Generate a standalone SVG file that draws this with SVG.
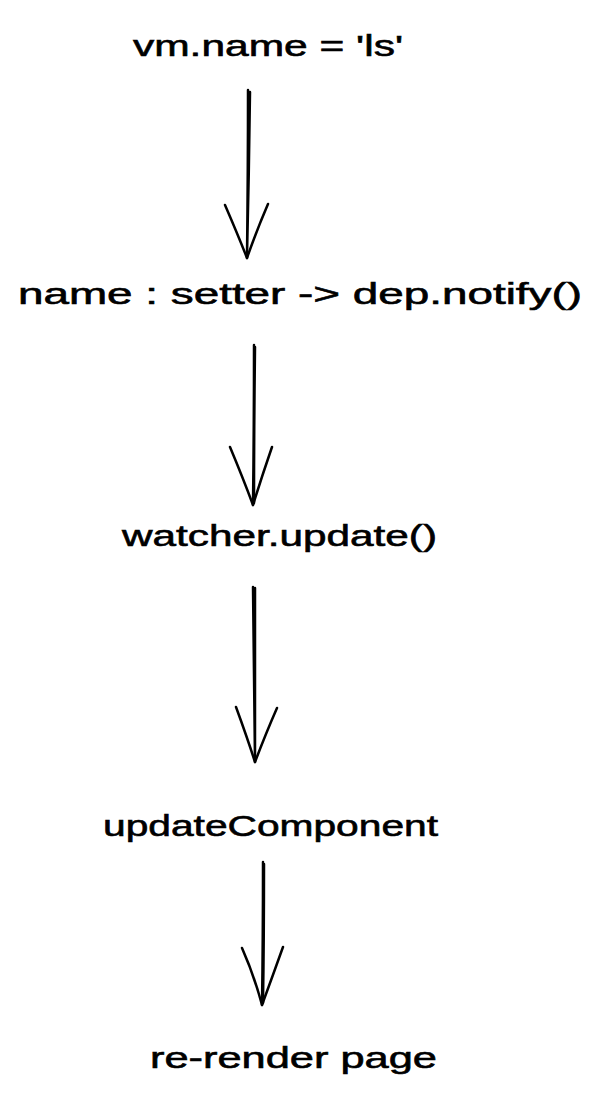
<svg xmlns="http://www.w3.org/2000/svg" width="604" height="1102" viewBox="0 0 604 1102">
<style>
.t{font-family:"Liberation Sans","Noto Sans",sans-serif;font-size:30px;fill:#000;stroke:#000;stroke-width:0.6;}
.a{fill:none;stroke:#000;stroke-width:2.5;stroke-linecap:round;stroke-linejoin:round;}
</style>
<rect width="604" height="1102" fill="#fff"/>
<g id="n1"><text class="t" x="133" y="56" textLength="270" lengthAdjust="spacingAndGlyphs">vm.name = 'ls'</text></g>
<g id="n2"><text class="t" x="18" y="304" textLength="564" lengthAdjust="spacingAndGlyphs">name : setter -&gt; dep.notify()</text></g>
<g id="n3"><text class="t" x="122" y="546" textLength="315" lengthAdjust="spacingAndGlyphs">watcher.update()</text></g>
<g id="n4"><text class="t" x="103" y="836" textLength="335" lengthAdjust="spacingAndGlyphs">updateComponent</text></g>
<g id="n5"><text class="t" x="150" y="1068" textLength="287" lengthAdjust="spacingAndGlyphs">re-render page</text></g>
<g id="connectors">
<path class="a" d="M248 90 Q248 170 247 258 M250 92 Q249 175 247 256"/>
<path class="a" d="M225 205 Q238 235 247 258 Q256 232 268 204"/>
<path class="a" d="M254 345 Q254 430 253 505 M255 347 Q254 430 254 503"/>
<path class="a" d="M230 447 Q243 478 253 505 Q262 476 272 447"/>
<path class="a" d="M253 587 Q254 680 255 762 M255 588 Q255 680 255 760"/>
<path class="a" d="M236 707 Q247 737 255 762 Q266 733 277 708"/>
<path class="a" d="M263 862 Q263 940 262 1005 M264 864 Q264 940 263 1003"/>
<path class="a" d="M242 948 Q254 975 262 1005 Q273 975 283 947"/>
</g>
</svg>
